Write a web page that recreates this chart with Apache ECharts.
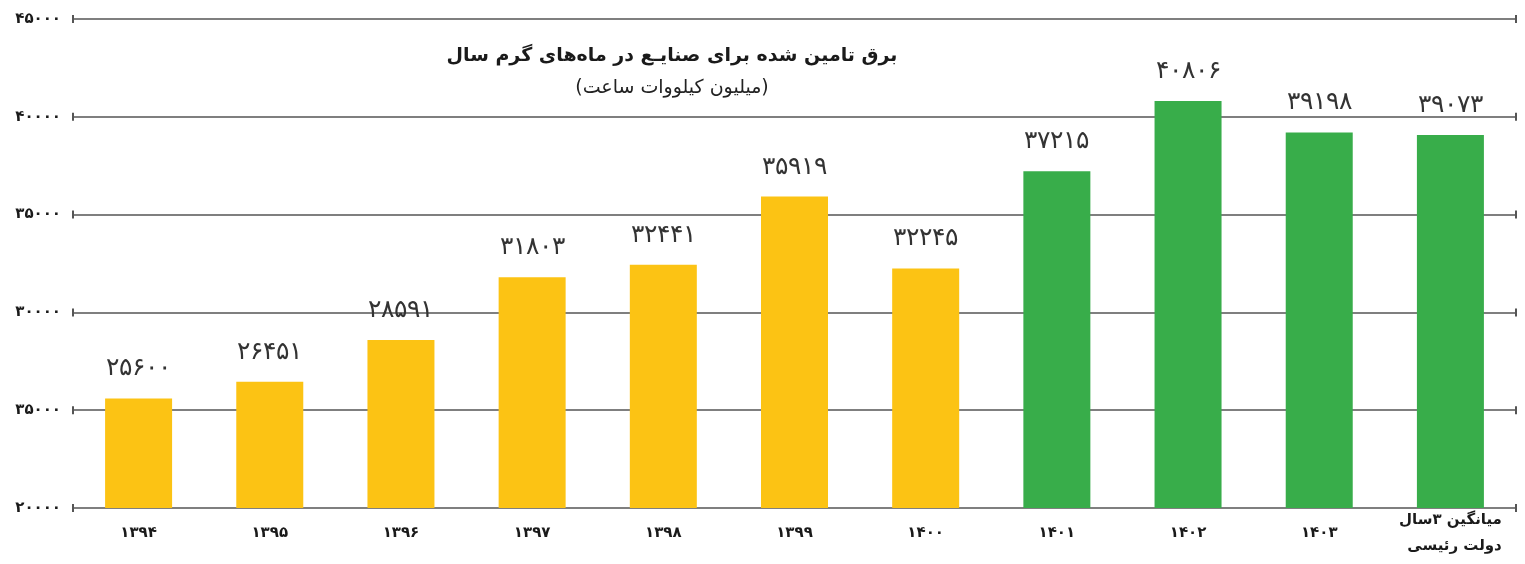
<!DOCTYPE html>
<html>
<head>
<meta charset="utf-8">
<script src="https://cdn.jsdelivr.net/npm/echarts@6/dist/echarts.min.js"></script>
<style>
  html, body { margin: 0; padding: 0; background: #fff; }
  #main { width: 1525px; height: 564px; }
</style>
</head>
<body>
<div id="main"></div>
<script>
// data
const categories = ['۱۳۹۴', '۱۳۹۵', '۱۳۹۶', '۱۳۹۷', '۱۳۹۸', '۱۳۹۹', '۱۴۰۰', '۱۴۰۱', '۱۴۰۲', '۱۴۰۳', 'میانگین ۳سال\nدولت رئیسی'];
const values = [25600, 26451, 28591, 31803, 32441, 35919, 32245, 37215, 40806, 39198, 39073];
const barColors = ['#FCC314', '#FCC314', '#FCC314', '#FCC314', '#FCC314', '#FCC314', '#FCC314', '#38AD4A', '#38AD4A', '#38AD4A', '#38AD4A'];
const yTicks = [20000, 25000, 30000, 35000, 40000, 45000];
const yTickLabels = ['۲۰۰۰۰', '۳۵۰۰۰', '۳۰۰۰۰', '۳۵۰۰۰', '۴۰۰۰۰', '۴۵۰۰۰'];

const faDigits = '۰۱۲۳۴۵۶۷۸۹';
function toFa(n) {
  return String(n).replace(/[0-9]/g, d => faDigits[+d]);
}

const chart = echarts.init(document.getElementById('main'));

chart.setOption({
  animation: false,
  title: {
    text: 'برق تامین شده برای صنایـع در ماه‌های گرم سال',
    subtext: '(میلیون کیلووات ساعت)',
    left: 667,
    textAlign: 'center',
    top: 42,
    itemGap: 13,
    textStyle: { fontFamily: 'DejaVu Sans', fontSize: 19, fontWeight: 'bold', color: '#1a1a1a' },
    subtextStyle: { fontFamily: 'DejaVu Sans', fontSize: 19, color: '#222' }
  },
  grid: { left: 73, right: 9, top: 19, bottom: 56 },
  xAxis: {
    type: 'category',
    data: categories,
    axisLine: { show: false },
    axisTick: { show: false },
    axisLabel: {
      margin: 25,
      interval: 0,
      verticalAlign: 'middle',
      formatter: v => '{c|' + v + '}',
      rich: {
        c: { fontFamily: 'DejaVu Sans', fontSize: 15, fontWeight: 'bold', color: '#1a1a1a', align: 'right', lineHeight: 26 }
      }
    }
  },
  yAxis: {
    type: 'value',
    min: 20000,
    max: 45000,
    interval: 5000,
    axisLine: { show: false },
    axisTick: { show: false },
    splitLine: { show: false },
    axisLabel: {
      margin: 12,
      fontFamily: 'DejaVu Sans',
      fontSize: 15,
      fontWeight: 'bold',
      color: '#1a1a1a',
      formatter: v => yTickLabels[yTicks.indexOf(v)]
    }
  },
  series: [{
    type: 'bar',
    data: values.map((v, i) => ({ value: v, itemStyle: { color: barColors[i] } })),
    barWidth: 67,
    z: 3,
    label: {
      show: true,
      position: 'top',
      distance: 17,
      fontFamily: 'DejaVu Sans',
      fontSize: 25,
      fontWeight: 'lighter',
      color: '#333',
      formatter: p => toFa(p.value)
    },
    markLine: {
      silent: true,
      symbol: ['rect', 'rect'],
      symbolSize: [8, 2],
      label: { show: false },
      lineStyle: { color: '#555', width: 1.5, type: 'solid' },
      itemStyle: { color: '#555' },
      z: 1,
      data: yTicks.map(t => ({ yAxis: t }))
    }
  }]
});
</script>
</body>
</html>
